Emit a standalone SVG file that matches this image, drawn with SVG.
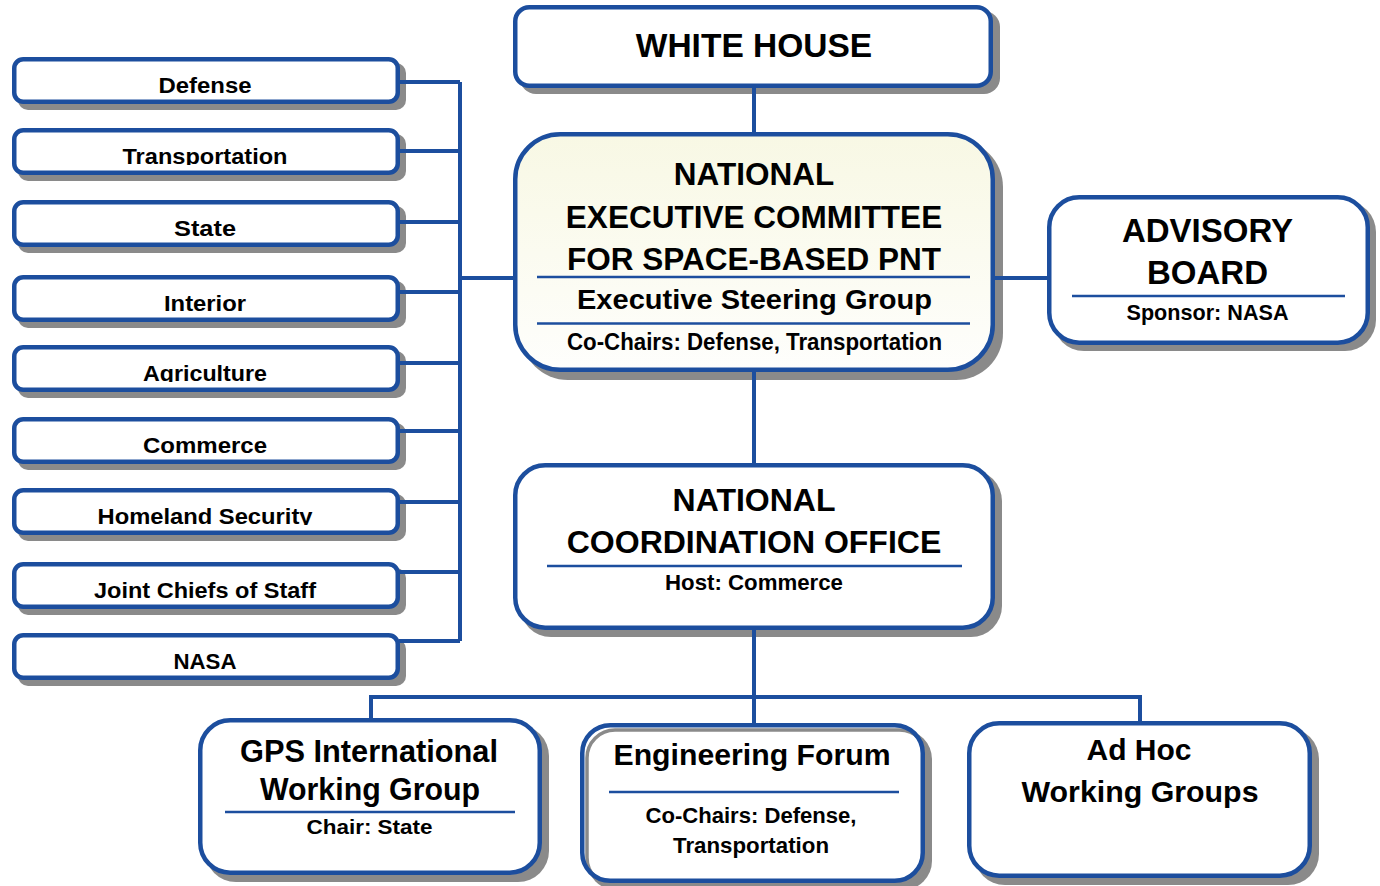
<svg xmlns="http://www.w3.org/2000/svg" width="1380" height="886" viewBox="0 0 1380 886">
<defs>
<style>
.sh{fill:#8a8a8a}
.bx{fill:#fff;stroke:#1c4e9e;stroke-width:4.5}
.ln{fill:none;stroke:#1c4e9e;stroke-width:4}
.sep{stroke:#1c4e9e;stroke-width:2.5}
text{font-family:"Liberation Sans",Arial,Helvetica,sans-serif;font-weight:bold;fill:#000;text-anchor:middle}
.dept{font-size:22px}
.big{font-size:32px}
.mid{font-size:28px}
.sm{font-size:22px}
</style>
<linearGradient id="cream" x1="0" y1="0" x2="0" y2="1">
<stop offset="0" stop-color="#f8f8e4"/>
<stop offset="1" stop-color="#fefefc"/>
</linearGradient>
<clipPath id="deptclip" clipPathUnits="userSpaceOnUse"><rect x="12" y="0" width="390" height="37"/></clipPath>
</defs>
<rect width="1380" height="886" fill="#fff"/>

<g id="dept-defense" transform="translate(0,57)">
<rect class="sh" x="18" y="6" width="388" height="47" rx="10"/>
<rect class="bx" x="14.25" y="2.25" width="383.5" height="42.5" rx="9"/>
<text class="dept" x="205" y="36" textLength="93" lengthAdjust="spacingAndGlyphs" clip-path="url(#deptclip)">Defense</text>
</g>
<g id="dept-transportation" transform="translate(0,128)">
<rect class="sh" x="18" y="6" width="388" height="47" rx="10"/>
<rect class="bx" x="14.25" y="2.25" width="383.5" height="42.5" rx="9"/>
<text class="dept" x="205" y="36" textLength="165" lengthAdjust="spacingAndGlyphs" clip-path="url(#deptclip)">Transportation</text>
</g>
<g id="dept-state" transform="translate(0,200)">
<rect class="sh" x="18" y="6" width="388" height="47" rx="10"/>
<rect class="bx" x="14.25" y="2.25" width="383.5" height="42.5" rx="9"/>
<text class="dept" x="205" y="36" textLength="62" lengthAdjust="spacingAndGlyphs" clip-path="url(#deptclip)">State</text>
</g>
<g id="dept-interior" transform="translate(0,275)">
<rect class="sh" x="18" y="6" width="388" height="47" rx="10"/>
<rect class="bx" x="14.25" y="2.25" width="383.5" height="42.5" rx="9"/>
<text class="dept" x="205" y="36" textLength="82" lengthAdjust="spacingAndGlyphs" clip-path="url(#deptclip)">Interior</text>
</g>
<g id="dept-agriculture" transform="translate(0,345)">
<rect class="sh" x="18" y="6" width="388" height="47" rx="10"/>
<rect class="bx" x="14.25" y="2.25" width="383.5" height="42.5" rx="9"/>
<text class="dept" x="205" y="36" textLength="124" lengthAdjust="spacingAndGlyphs" clip-path="url(#deptclip)">Agriculture</text>
</g>
<g id="dept-commerce" transform="translate(0,417)">
<rect class="sh" x="18" y="6" width="388" height="47" rx="10"/>
<rect class="bx" x="14.25" y="2.25" width="383.5" height="42.5" rx="9"/>
<text class="dept" x="205" y="36" textLength="124" lengthAdjust="spacingAndGlyphs" clip-path="url(#deptclip)">Commerce</text>
</g>
<g id="dept-homeland" transform="translate(0,488)">
<rect class="sh" x="18" y="6" width="388" height="47" rx="10"/>
<rect class="bx" x="14.25" y="2.25" width="383.5" height="42.5" rx="9"/>
<text class="dept" x="205" y="36" textLength="215" lengthAdjust="spacingAndGlyphs" clip-path="url(#deptclip)">Homeland Security</text>
</g>
<g id="dept-jcs" transform="translate(0,562)">
<rect class="sh" x="18" y="6" width="388" height="47" rx="10"/>
<rect class="bx" x="14.25" y="2.25" width="383.5" height="42.5" rx="9"/>
<text class="dept" x="205" y="36" textLength="222" lengthAdjust="spacingAndGlyphs" clip-path="url(#deptclip)">Joint Chiefs of Staff</text>
</g>
<g id="dept-nasa" transform="translate(0,633)">
<rect class="sh" x="18" y="6" width="388" height="47" rx="10"/>
<rect class="bx" x="14.25" y="2.25" width="383.5" height="42.5" rx="9"/>
<text class="dept" x="205" y="36" textLength="63" lengthAdjust="spacingAndGlyphs" clip-path="url(#deptclip)">NASA</text>
</g>

<g id="white-house">
<rect class="sh" x="520" y="11" width="480" height="83" rx="16"/>
<rect class="bx" x="515.25" y="7.25" width="475.5" height="78.5" rx="14"/>
<text x="754" y="57" style="font-size:33.5px">WHITE HOUSE</text>
</g>

<g id="excom">
<rect class="sh" x="521" y="140" width="482" height="240" rx="47"/>
<rect class="bx" x="515.25" y="134.25" width="477.5" height="235.5" rx="45" style="fill:url(#cream)"/>
<text x="754" y="185" style="font-size:31.5px">NATIONAL</text>
<text x="754" y="228" style="font-size:31.5px">EXECUTIVE COMMITTEE</text>
<text x="754" y="270" style="font-size:31.5px">FOR SPACE-BASED PNT</text>
<line class="sep" x1="537" y1="277" x2="970" y2="277"/>
<text class="mid" x="754.5" y="309" textLength="355" lengthAdjust="spacingAndGlyphs">Executive Steering Group</text>
<line class="sep" x1="537" y1="323.5" x2="970" y2="323.5"/>
<text x="754.5" y="350" style="font-size:23px" textLength="375" lengthAdjust="spacingAndGlyphs">Co-Chairs: Defense, Transportation</text>
</g>

<g id="advisory-board">
<rect class="sh" x="1053" y="201" width="323" height="150" rx="31"/>
<rect class="bx" x="1049.25" y="197.25" width="318.5" height="145.5" rx="30"/>
<text x="1207.5" y="242" style="font-size:33px">ADVISORY</text>
<text x="1207.5" y="284" style="font-size:33px">BOARD</text>
<line class="sep" x1="1072" y1="296" x2="1345" y2="296"/>
<text class="sm" x="1207.5" y="320" textLength="162" lengthAdjust="spacingAndGlyphs">Sponsor: NASA</text>
</g>

<g id="nco">
<rect class="sh" x="520" y="470" width="482" height="167" rx="31"/>
<rect class="bx" x="515.25" y="465.25" width="477.5" height="162.5" rx="30"/>
<text class="big" x="754" y="511">NATIONAL</text>
<text class="big" x="754" y="553">COORDINATION OFFICE</text>
<line class="sep" x1="547" y1="566" x2="962" y2="566"/>
<text class="sm" x="754" y="590" textLength="178" lengthAdjust="spacingAndGlyphs">Host: Commerce</text>
</g>

<g id="gps-iwg">
<rect class="sh" x="205" y="725" width="344" height="157" rx="31"/>
<rect class="bx" x="200.25" y="720.25" width="339.5" height="152.5" rx="30"/>
<text x="369" y="762" style="font-size:31px" textLength="258" lengthAdjust="spacingAndGlyphs">GPS International</text>
<text x="370" y="800" style="font-size:31px" textLength="220" lengthAdjust="spacingAndGlyphs">Working Group</text>
<line class="sep" x1="225" y1="812" x2="515" y2="812"/>
<text x="369.5" y="834" style="font-size:21px" textLength="126" lengthAdjust="spacingAndGlyphs">Chair: State</text>
</g>

<g id="engineering-forum">
<rect class="sh" x="587" y="730" width="345" height="160" rx="29"/>
<rect x="582.25" y="725.25" width="340.5" height="155.5" rx="28" fill="#fff"/>
<rect x="587" y="730" width="340.5" height="155.5" rx="28" fill="none" stroke="#8a8a8a" stroke-width="3.5"/>
<rect class="bx" x="582.25" y="725.25" width="340.5" height="155.5" rx="28" style="fill:none"/>
<text x="752" y="765" style="font-size:30px" textLength="277" lengthAdjust="spacingAndGlyphs">Engineering Forum</text>
<line class="sep" x1="609" y1="792" x2="899" y2="792"/>
<text class="sm" x="751" y="823" textLength="211" lengthAdjust="spacingAndGlyphs">Co-Chairs: Defense,</text>
<text class="sm" x="751" y="853" textLength="156" lengthAdjust="spacingAndGlyphs">Transportation</text>
</g>

<g id="adhoc-wg">
<rect class="sh" x="974" y="728" width="345" height="157" rx="31"/>
<rect class="bx" x="969.25" y="723.25" width="340.5" height="152.5" rx="30"/>
<text x="1139" y="760" style="font-size:30px" textLength="105" lengthAdjust="spacingAndGlyphs">Ad Hoc</text>
<text x="1140" y="802" style="font-size:30px" textLength="237" lengthAdjust="spacingAndGlyphs">Working Groups</text>
</g>

<g id="connectors">
<path class="ln" d="M754 87 V133"/>
<path class="ln" d="M754 371 V464"/>
<path class="ln" d="M754 629 V724"/>
<path class="ln" d="M371 719 V697 H1140 V722"/>
<path class="ln" d="M460 82 V641"/>
<path class="ln" d="M399 82 H460 M399 151 H460 M399 222 H460 M399 292 H460 M399 363 H460 M399 431 H460 M399 502 H460 M399 572 H460 M399 641 H460"/>
<path class="ln" d="M460 278 H514"/>
<path class="ln" d="M994 278 H1048"/>
</g>
</svg>
